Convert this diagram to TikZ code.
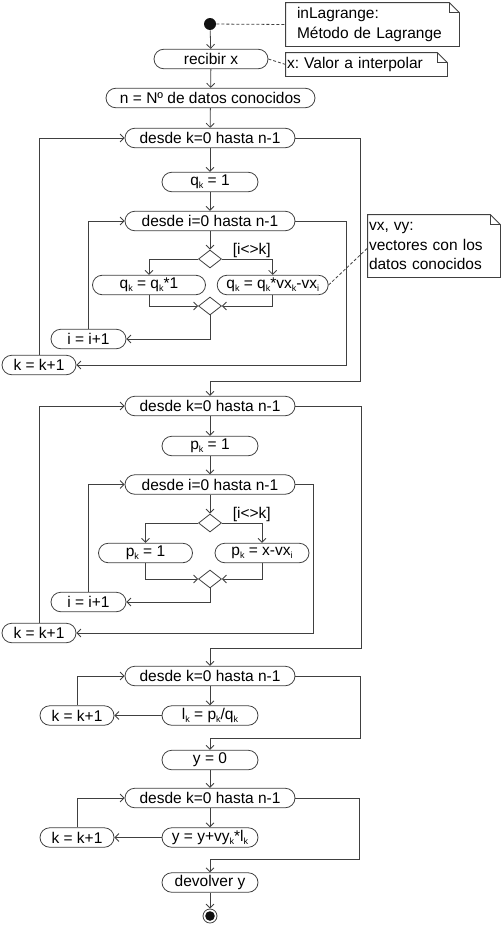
\documentclass[tikz,border=0pt]{standalone}
\usepackage{fontspec}
\setmainfont{Liberation Sans}
\usepackage{tikz}
\usetikzlibrary{positioning,shapes.geometric,arrows.meta,calc}
\usepackage{xcolor}
\definecolor{umlLine}{HTML}{404040}
\definecolor{umlDot}{HTML}{111111}
\frenchspacing
\newcommand\umlfont{\fontsize{15.5}{19.5}\selectfont}
\newcommand\idx[1]{\raisebox{-2.5pt}{\fontsize{9}{9}\selectfont#1}}
\newcommand\notefold[1]{%
  \draw[umlLine] (#1.north west) -- ([xshift=-10pt]#1.north east) -- ([yshift=-10pt]#1.north east)
    -- (#1.south east) -- (#1.south west) -- cycle;
  \draw[umlLine] ([xshift=-10pt]#1.north east) -- ([xshift=-10pt,yshift=-10pt]#1.north east)
    -- ([yshift=-10pt]#1.north east);}

\begin{document}
\begin{tikzpicture}[x=1pt,y=-1pt,line width=0.8pt,
  act/.style={draw=umlLine,fill=white,rounded corners=9.75pt,minimum height=19.5pt,inner sep=0pt,font=\umlfont},
  loopbox/.style={act,minimum width=170pt},
  setbox/.style={act,minimum width=96pt},
  incbox/.style={act,minimum width=74pt},
  choice/.style={diamond,draw=umlLine,fill=white,minimum width=23pt,minimum height=18pt,inner sep=0pt},
  guard/.style={anchor=south west,inner sep=1pt,font=\umlfont},
  notebox/.style={align=left,inner ysep=0pt,font=\umlfont},
  flow/.style={draw=umlLine,-{Straight Barb[length=4pt,width=8pt]}},
  link/.style={draw=umlLine,dash pattern=on 3pt off 2pt}]
  \useasboundingbox (0,0) rectangle (501,926);

  \node[circle,fill=umlDot,minimum size=12pt,inner sep=0pt] (start) at (210,24) {};
  \node[act,minimum width=114pt] (recibir) at (211,59) {recibir x};
  \node[act,minimum width=209pt] (datos) at (210.5,98) {n = Nº de datos conocidos};
  \node[notebox,text width=151pt,inner xsep=11pt,minimum height=43pt] (info) at (372.5,24.5) {inLagrange:\\Método de Lagrange};
  \node[notebox,text width=159pt,inner xsep=1pt,minimum height=23pt] (xnote) at (366.5,64.5) {x: Valor a interpolar};
  \notefold{info}
  \notefold{xnote}

  \node[loopbox] (dk1) at (210,138) {desde k=0 hasta n-1};
  \node[setbox] (qk1) at (210,182) {q\idx{k} = 1};
  \node[loopbox] (di1) at (210,221) {desde i=0 hasta n-1};
  \node[choice] (dec1) at (210,259) {};
  \node[guard] (g1) at ([xshift=9.5pt]dec1.east) {[i<>k]};
  \node[act,minimum width=113pt] (qa) at (149,285) {q\idx{k} = q\idx{k}*1};
  \node[act,minimum width=111pt] (qb) at (272.7,285) {q\idx{k} = q\idx{k}*vx\idx{k}-vx\idx{i}};
  \node[choice] (mer1) at (210,306) {};
  \node[incbox,minimum width=75pt] (inc1) at (88.5,339) {i = i+1};
  \node[incbox] (kinc1) at (39,365) {k = k+1};
  \node[notebox,text width=130pt,inner xsep=1pt,minimum height=62pt] (vnote) at (434,246) {vx, vy:\\vectores con los\\datos conocidos};
  \notefold{vnote}

  \node[loopbox] (dk2) at (210,406) {desde k=0 hasta n-1};
  \node[setbox] (pk1) at (210,446) {p\idx{k} = 1};
  \node[loopbox] (di2) at (210,484.5) {desde i=0 hasta n-1};
  \node[choice] (dec2) at (210,523) {};
  \node[guard] (g2) at ([xshift=9.5pt]dec2.east) {[i<>k]};
  \node[act,minimum width=94pt] (pa) at (145.5,553) {p\idx{k} = 1};
  \node[act,minimum width=94pt] (pb) at (262,553) {p\idx{k} = x-vx\idx{i}};
  \node[choice] (mer2) at (210,579) {};
  \node[incbox,minimum width=75pt] (inc2) at (88.5,602) {i = i+1};
  \node[incbox] (kinc2) at (39,633) {k = k+1};

  \node[loopbox] (dk3) at (210,676) {desde k=0 hasta n-1};
  \node[setbox] (lk) at (210,715.5) {l\idx{k} = p\idx{k}/q\idx{k}};
  \node[incbox] (kinc3) at (77,715.5) {k = k+1};
  \node[setbox] (y0) at (210,760) {y = 0};
  \node[loopbox] (dk4) at (210,798) {desde k=0 hasta n-1};
  \node[setbox] (yy) at (210,837.5) {y = y+vy\idx{k}*l\idx{k}};
  \node[incbox] (kinc4) at (77,837.5) {k = k+1};
  \node[setbox] (devolver) at (210,882.5) {devolver y};
  \node[circle,draw=umlLine,minimum size=14pt,inner sep=0pt] (stop) at (210,916) {};
  \fill[umlDot] (stop) circle (4.8);

  \draw[link] (start) -- (info.west);
  \draw[link] (recibir.east) -- (xnote.west);
  \draw[link] (qb.east) -- ([yshift=-2pt]vnote.west);

  \draw[flow] (start) -- (recibir);
  \draw[flow] (recibir) -- (datos);
  \draw[flow] (datos) -- (dk1);
  \draw[flow] (dk1) -- (qk1);
  \draw[flow] (qk1) -- (di1);
  \draw[flow] (di1) -- (dec1);
  \draw[flow] (dec1.west) -| (qa.north);
  \draw[flow] (dec1.east) -| (qb.north);
  \draw[flow] (qa.south) |- (mer1.west);
  \draw[flow] (qb.south) |- (mer1.east);
  \draw[flow] (mer1.south) |- (inc1.east);
  \draw[flow] (inc1.north) |- (di1.west);
  \draw[flow] (di1.east) -- ++(51,0) |- (kinc1.east);
  \draw[flow] (kinc1.north) |- (dk1.west);
  \draw[flow] (dk1.east) -- ++(65,0) -- ++(0,243) -| (dk2.north);

  \draw[flow] (dk2) -- (pk1);
  \draw[flow] (pk1) -- (di2);
  \draw[flow] (di2) -- (dec2);
  \draw[flow] (dec2.west) -| (pa.north);
  \draw[flow] (dec2.east) -| (pb.north);
  \draw[flow] (pa.south) |- (mer2.west);
  \draw[flow] (pb.south) |- (mer2.east);
  \draw[flow] (mer2.south) |- (inc2.east);
  \draw[flow] (inc2.north) |- (di2.west);
  \draw[flow] (di2.east) -- ++(18,0) |- (kinc2.east);
  \draw[flow] (kinc2.north) |- (dk2.west);
  \draw[flow] (dk2.east) -- ++(66,0) -- ++(0,242) -| (dk3.north);

  \draw[flow] (dk3) -- (lk);
  \draw[flow] (lk) -- (kinc3);
  \draw[flow] (kinc3.north) |- (dk3.west);
  \draw[flow] (dk3.east) -- ++(65,0) -- ++(0,62) -| (y0.north);
  \draw[flow] (y0) -- (dk4);
  \draw[flow] (dk4) -- (yy);
  \draw[flow] (yy) -- (kinc4);
  \draw[flow] (kinc4.north) |- (dk4.west);
  \draw[flow] (dk4.east) -- ++(64,0) -- ++(0,61) -| (devolver.north);
  \draw[flow] (devolver) -- (stop);
\end{tikzpicture}
\end{document}
